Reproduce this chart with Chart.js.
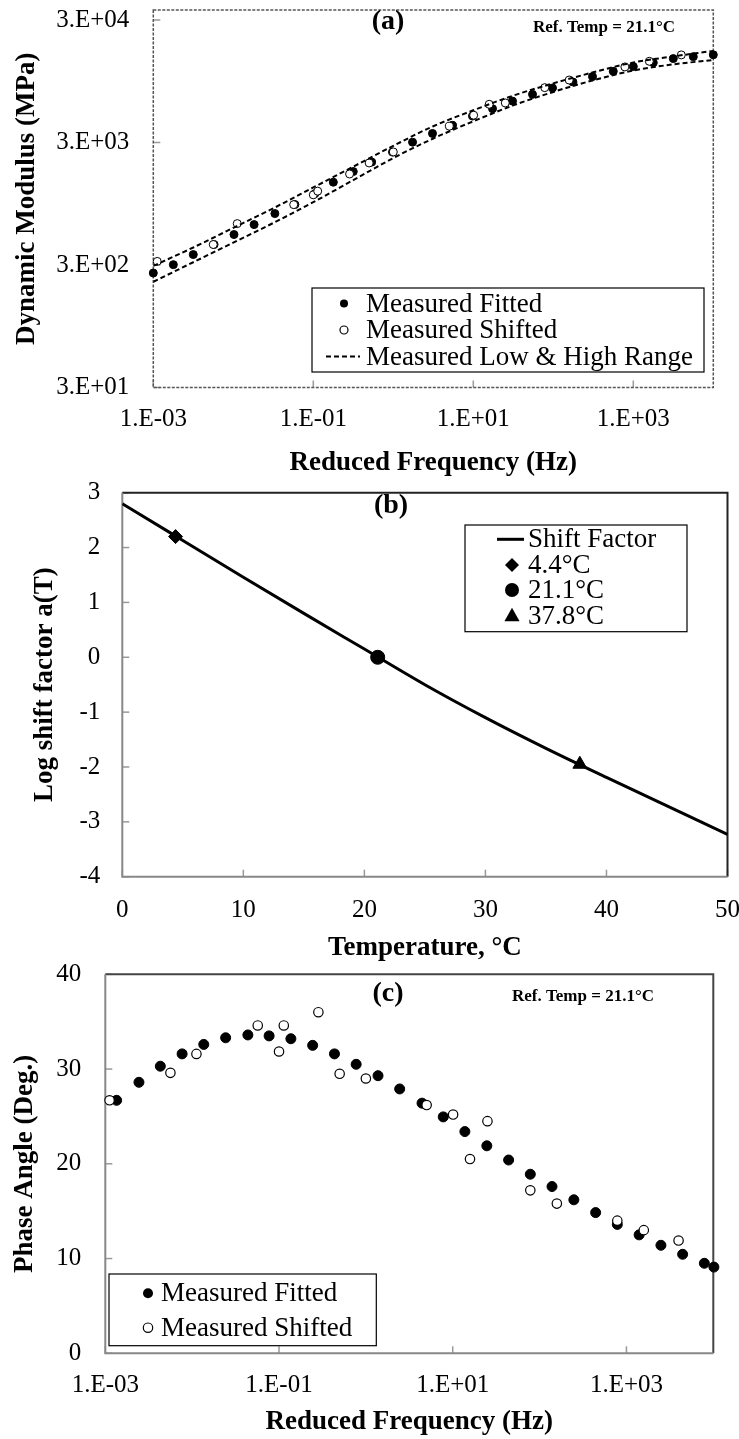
<!DOCTYPE html>
<html>
<head>
<meta charset="utf-8">
<script src="https://cdn.jsdelivr.net/npm/chart.js@4.4.0/dist/chart.umd.min.js"></script>
<style>
  html, body { margin: 0; padding: 0; background: #fff; }
  body { width: 739px; height: 1439px; position: relative; overflow: hidden; }
  canvas { position: absolute; left: 0; }
  #chartA { top: 0; }
  #chartB { top: 470px; }
  #chartC { top: 950px; }
</style>
</head>
<body>
<canvas id="chartA" width="739" height="480"></canvas>
<canvas id="chartB" width="739" height="494"></canvas>
<canvas id="chartC" width="739" height="489"></canvas>
<script>
// ---- Data: (a) dynamic modulus ----
const freqFittedA = [0.001, 0.00178, 0.00316, 0.00575, 0.0102, 0.0182, 0.0331, 0.0589, 0.105, 0.178, 0.316, 0.537, 0.977, 1.74, 3.09, 5.50, 9.77, 17.4, 30.9, 55.0, 97.7, 176, 309, 562, 1000, 1778, 3162, 5623, 10000];
const modulusFitted = [258, 302, 365, 441, 532, 641, 789, 935, 1148, 1422, 1738, 2075, 2506, 3020, 3556, 4140, 4932, 5662, 6531, 7413, 8356, 9354, 10351, 11429, 12503, 13459, 14521, 15066, 15600];
const freqShifted = [0.00112, 0.00562, 0.0112, 0.0569, 0.100, 0.1135, 0.284, 0.499, 1.0, 5.01, 10.1, 15.8, 25.1, 78.2, 158, 785, 1585, 3981];
const modulusShifted = [321, 441, 653, 933, 1122, 1202, 1660, 2042, 2512, 4074, 5012, 6152, 6310, 8414, 9705, 12416, 13804, 15560];
const freqRange = [0.001, 0.00316, 0.01, 0.0316, 0.1, 0.316, 1, 3.16, 10, 31.6, 100, 316, 1000, 3162, 10000];
const modulusHigh = [295, 417, 603, 871, 1288, 1905, 2818, 4074, 5495, 7244, 9120, 11220, 13490, 15140, 16790];
const modulusLow = [219, 316, 457, 661, 977, 1479, 2239, 3236, 4467, 6026, 7762, 9661, 11610, 13030, 14130];
const modulusTicks = [30, 300, 3000, 30000];
const modulusTickLabels = ['3.E+01', '3.E+02', '3.E+03', '3.E+04'];
const freqTicks = [0.001, 0.1, 10, 1000];
const freqTickLabels = ['1.E-03', '1.E-01', '1.E+01', '1.E+03'];

// ---- Data: (b) shift factor ----
const tempCurve = [0, 5, 10, 15, 20, 25, 30, 35, 40, 45, 50];
const shiftCurve = [2.80, 2.13, 1.46, 0.80, 0.15, -0.50, -1.10, -1.66, -2.19, -2.71, -3.23];
const tempPoints = [4.4, 21.1, 37.8];
const shiftPoints = [2.2, 0, -1.95];
const tempLabels = ['4.4°C', '21.1°C', '37.8°C'];

// ---- Data: (c) phase angle ----
const freqFittedC = [0.00135, 0.00244, 0.0043, 0.00766, 0.0136, 0.0243, 0.0438, 0.0769, 0.137, 0.244, 0.435, 0.773, 1.38, 2.45, 4.43, 7.78, 13.8, 24.7, 44.0, 78.2, 139, 248, 442, 785, 1400, 2495, 4436, 7889, 10160];
const phaseFitted = [26.7, 28.6, 30.3, 31.6, 32.6, 33.3, 33.6, 33.5, 33.2, 32.5, 31.6, 30.5, 29.3, 27.9, 26.4, 24.95, 23.4, 21.9, 20.4, 18.9, 17.6, 16.2, 14.85, 13.6, 12.5, 11.4, 10.45, 9.5, 9.1];
const phaseShifted = [26.7, 29.6, 31.6, 34.6, 31.85, 34.6, 36.0, 29.5, 29.0, 26.2, 25.2, 20.5, 24.5, 17.2, 15.8, 14.0, 13.0, 11.9];

const SERIF = "'Liberation Serif', 'Times New Roman', serif";
Chart.defaults.font.family = SERIF;
Chart.defaults.color = '#000';
Chart.defaults.animation = false;

function pts(xs, ys) { return xs.map((x, i) => ({ x: x, y: ys[i] })); }

// fix axis box sizes so the plot area lands where the reference has it
function fixWidth(w) {
  return s => { s.width = w; s.paddingLeft = s.paddingRight = s.paddingTop = s.paddingBottom = 0; };
}
function fixHeight(h) {
  return s => { s.height = h; s.paddingLeft = s.paddingRight = s.paddingTop = s.paddingBottom = 0; };
}

function drawMarker(ctx, kind, x, y, r) {
  ctx.save();
  ctx.fillStyle = '#000';
  ctx.strokeStyle = '#000';
  ctx.lineWidth = 1.2;
  ctx.beginPath();
  if (kind === 'dot') {
    ctx.arc(x, y, r, 0, Math.PI * 2); ctx.fill();
  } else if (kind === 'ring') {
    ctx.fillStyle = '#fff'; ctx.arc(x, y, r, 0, Math.PI * 2); ctx.fill(); ctx.stroke();
  } else if (kind === 'diamond') {
    ctx.moveTo(x, y - r); ctx.lineTo(x + r, y); ctx.lineTo(x, y + r); ctx.lineTo(x - r, y); ctx.closePath(); ctx.fill();
  } else if (kind === 'triangle') {
    ctx.moveTo(x, y - r); ctx.lineTo(x + r * 0.95, y + r * 0.7); ctx.lineTo(x - r * 0.95, y + r * 0.7); ctx.closePath(); ctx.fill();
  }
  ctx.restore();
}

// frame + inward tick marks
const frameDecor = {
  id: 'frameDecor',
  beforeDatasetsDraw(chart, args, o) {
    const { ctx, chartArea: a, scales } = chart;
    ctx.save();
    ctx.lineCap = 'butt';
    ctx.strokeStyle = o.tickColor;
    ctx.lineWidth = 1.5;
    scales.x.ticks.forEach(t => {
      const px = scales.x.getPixelForValue(t.value);
      ctx.beginPath(); ctx.moveTo(px, a.bottom); ctx.lineTo(px, a.bottom - 7); ctx.stroke();
    });
    scales.y.ticks.forEach(t => {
      const py = scales.y.getPixelForValue(t.value);
      ctx.beginPath(); ctx.moveTo(a.left, py); ctx.lineTo(a.left + 7, py); ctx.stroke();
    });
    if (o.dashed) {
      ctx.setLineDash([3, 1.5]);
      ctx.strokeStyle = '#555';
      ctx.lineWidth = 1.5;
      ctx.strokeRect(a.left, a.top, a.right - a.left, a.bottom - a.top);
    } else {
      ctx.lineWidth = 2;
      ctx.strokeStyle = o.outerColor;
      ctx.beginPath(); ctx.moveTo(a.left, a.top); ctx.lineTo(a.right, a.top); ctx.lineTo(a.right, a.bottom); ctx.stroke();
      ctx.strokeStyle = '#888';
      ctx.beginPath(); ctx.moveTo(a.left, a.top); ctx.lineTo(a.left, a.bottom); ctx.lineTo(a.right, a.bottom); ctx.stroke();
    }
    ctx.restore();
  }
};

// panel letter, ref temp note and boxed legend
const panelDecor = {
  id: 'panelDecor',
  afterDraw(chart, args, o) {
    const ctx = chart.ctx;
    ctx.save();
    ctx.fillStyle = '#000';
    ctx.textAlign = 'center';
    ctx.textBaseline = 'middle';
    ctx.font = 'bold 28px ' + SERIF;
    ctx.fillText(o.letter, o.letterX, o.letterY);
    if (o.note) {
      ctx.font = 'bold 17px ' + SERIF;
      ctx.fillText(o.note, o.noteX, o.noteY);
    }
    const L = o.legend;
    ctx.fillStyle = '#fff';
    ctx.fillRect(L.x0, L.y0, L.x1 - L.x0, L.y1 - L.y0);
    ctx.strokeStyle = '#000';
    ctx.lineWidth = 1.2;
    ctx.strokeRect(L.x0, L.y0, L.x1 - L.x0, L.y1 - L.y0);
    ctx.font = '27px ' + SERIF;
    ctx.textAlign = 'left';
    L.items.forEach((it, i) => {
      const y = L.rows[i];
      if (it.kind === 'dash' || it.kind === 'line') {
        ctx.save();
        ctx.strokeStyle = '#000';
        ctx.lineWidth = it.kind === 'dash' ? 2 : 3;
        if (it.kind === 'dash') ctx.setLineDash([5, 3]);
        ctx.beginPath(); ctx.moveTo(L.lineX0, y); ctx.lineTo(L.lineX1, y); ctx.stroke();
        ctx.restore();
      } else {
        drawMarker(ctx, it.kind, L.markerX, y, it.r);
      }
      ctx.fillStyle = '#000';
      ctx.fillText(chart.data.datasets[it.ds].label, L.textX, y + 1);
    });
    ctx.restore();
  }
};

function axisTitle(text, pad) {
  return { display: true, text: text, font: { size: 27, weight: 'bold' }, padding: pad };
}

// ---------- (a) ----------
new Chart(document.getElementById('chartA'), {
  type: 'scatter',
  data: {
    datasets: [
      { label: 'Measured Fitted', data: pts(freqFittedA, modulusFitted), pointRadius: 4, backgroundColor: '#000', borderColor: '#000', borderWidth: 1, clip: false, order: 4 },
      { label: 'Measured Shifted', data: pts(freqShifted, modulusShifted), pointRadius: 4, backgroundColor: '#fff', borderColor: '#000', borderWidth: 1, clip: false, order: 3 },
      { label: 'Measured Low & High Range', data: pts(freqRange, modulusHigh), showLine: true, pointRadius: 0, borderColor: '#000', borderWidth: 2, borderDash: [5, 3], cubicInterpolationMode: 'monotone', order: 2 },
      { label: 'Measured Low & High Range', data: pts(freqRange, modulusLow), showLine: true, pointRadius: 0, borderColor: '#000', borderWidth: 2, borderDash: [5, 3], cubicInterpolationMode: 'monotone', order: 1 }
    ]
  },
  options: {
    responsive: false,
    layout: { padding: { top: 10, right: 25.7, bottom: 0, left: 0 } },
    plugins: {
      legend: { display: false },
      tooltip: { enabled: false },
      frameDecor: { dashed: true, tickColor: '#999' },
      panelDecor: {
        letter: '(a)', letterX: 388, letterY: 22,
        note: 'Ref. Temp = 21.1°C', noteX: 604, noteY: 28,
        legend: {
          x0: 312, y0: 288, x1: 704, y1: 372,
          rows: [303.5, 330, 356.5], markerX: 344, lineX0: 326, lineX1: 360, textX: 366,
          items: [{ ds: 0, kind: 'dot', r: 4 }, { ds: 1, kind: 'ring', r: 4 }, { ds: 2, kind: 'dash' }]
        }
      }
    },
    scales: {
      x: {
        type: 'logarithmic', min: 0.001, max: 10000,
        grid: { display: false, drawTicks: false }, border: { display: false },
        afterBuildTicks: s => { s.ticks = freqTicks.map(v => ({ value: v })); },
        afterFit: fixHeight(92.5),
        ticks: { autoSkip: false, maxRotation: 0, padding: 16.5, font: { size: 25 }, callback: (v, i) => freqTickLabels[i] },
        title: axisTitle('Reduced Frequency (Hz)', { top: 0, bottom: 0.8 })
      },
      y: {
        type: 'logarithmic', min: 30, max: 36200,
        grid: { display: false, drawTicks: false }, border: { display: false },
        afterBuildTicks: s => { s.ticks = modulusTicks.map(v => ({ value: v })); },
        afterFit: fixWidth(153.3),
        ticks: { autoSkip: false, padding: 24, font: { size: 25 }, callback: (v, i) => modulusTickLabels[i] },
        title: axisTitle('Dynamic Modulus (MPa)', { top: 10.8, bottom: 0 })
      }
    }
  },
  plugins: [frameDecor, panelDecor]
});

// ---------- (b) ----------
new Chart(document.getElementById('chartB'), {
  type: 'scatter',
  data: {
    datasets: [
      { label: 'Shift Factor', data: pts(tempCurve, shiftCurve), showLine: true, pointRadius: 0, borderColor: '#000', borderWidth: 3, cubicInterpolationMode: 'monotone', order: 4 },
      { label: tempLabels[0], data: [{ x: tempPoints[0], y: shiftPoints[0] }], pointStyle: 'rectRot', pointRadius: 7, backgroundColor: '#000', borderColor: '#000', order: 1 },
      { label: tempLabels[1], data: [{ x: tempPoints[1], y: shiftPoints[1] }], pointStyle: 'circle', pointRadius: 7, backgroundColor: '#000', borderColor: '#000', order: 2 },
      { label: tempLabels[2], data: [{ x: tempPoints[2], y: shiftPoints[2] }], pointStyle: 'triangle', pointRadius: 8, backgroundColor: '#000', borderColor: '#000', order: 3 }
    ]
  },
  options: {
    responsive: false,
    layout: { padding: { top: 22.7, right: 11.5, bottom: 0, left: 0 } },
    plugins: {
      legend: { display: false },
      tooltip: { enabled: false },
      frameDecor: { dashed: false, tickColor: '#999', outerColor: '#222' },
      panelDecor: {
        letter: '(b)', letterX: 391, letterY: 35.5,
        legend: {
          x0: 465, y0: 55, x1: 687, y1: 161.7,
          rows: [69.3, 95, 120, 145.7], markerX: 512, lineX0: 497, lineX1: 524, textX: 528,
          items: [{ ds: 0, kind: 'line' }, { ds: 1, kind: 'diamond', r: 7 }, { ds: 2, kind: 'dot', r: 7 }, { ds: 3, kind: 'triangle', r: 8 }]
        }
      }
    },
    scales: {
      x: {
        type: 'linear', min: 0, max: 50,
        grid: { display: false, drawTicks: false }, border: { display: false },
        afterFit: fixHeight(87.3),
        ticks: { stepSize: 10, autoSkip: false, maxRotation: 0, padding: 19, font: { size: 25 } },
        title: axisTitle('Temperature, °C', { top: 0, bottom: 0 })
      },
      y: {
        type: 'linear', min: -4, max: 3,
        grid: { display: false, drawTicks: false }, border: { display: false },
        afterFit: fixWidth(122.3),
        ticks: { stepSize: 1, autoSkip: false, padding: 22, font: { size: 25 } },
        title: axisTitle('Log shift factor a(T)', { top: 28.8, bottom: 0 })
      }
    }
  },
  plugins: [frameDecor, panelDecor]
});

// ---------- (c) ----------
new Chart(document.getElementById('chartC'), {
  type: 'scatter',
  data: {
    datasets: [
      { label: 'Measured Fitted', data: pts(freqFittedC, phaseFitted), pointRadius: 5, backgroundColor: '#000', borderColor: '#000', borderWidth: 1, clip: false, order: 2 },
      { label: 'Measured Shifted', data: pts(freqShifted, phaseShifted), pointRadius: 4.7, backgroundColor: '#fff', borderColor: '#000', borderWidth: 1.2, clip: false, order: 1 }
    ]
  },
  options: {
    responsive: false,
    layout: { padding: { top: 24.3, right: 25.7, bottom: 0, left: 0 } },
    plugins: {
      legend: { display: false },
      tooltip: { enabled: false },
      frameDecor: { dashed: false, tickColor: '#999', outerColor: '#444' },
      panelDecor: {
        letter: '(c)', letterX: 388, letterY: 43.3,
        note: 'Ref. Temp = 21.1°C', noteX: 583, noteY: 46.7,
        legend: {
          x0: 109, y0: 324, x1: 376.3, y1: 395.7,
          rows: [343.3, 377.7], markerX: 148, lineX0: 0, lineX1: 0, textX: 161,
          items: [{ ds: 0, kind: 'dot', r: 5 }, { ds: 1, kind: 'ring', r: 4.7 }]
        }
      }
    },
    scales: {
      x: {
        type: 'logarithmic', min: 0.001, max: 10000,
        grid: { display: false, drawTicks: false }, border: { display: false },
        afterBuildTicks: s => { s.ticks = freqTicks.map(v => ({ value: v })); },
        afterFit: fixHeight(85.7),
        ticks: { autoSkip: false, maxRotation: 0, padding: 16.7, font: { size: 25 }, callback: (v, i) => freqTickLabels[i] },
        title: axisTitle('Reduced Frequency (Hz)', { top: 0, bottom: 1.1 })
      },
      y: {
        type: 'linear', min: 0, max: 40,
        grid: { display: false, drawTicks: false }, border: { display: false },
        afterFit: fixWidth(105.3),
        ticks: { stepSize: 10, autoSkip: false, padding: 24, font: { size: 25 } },
        title: axisTitle('Phase Angle (Deg.)', { top: 8.8, bottom: 0 })
      }
    }
  },
  plugins: [frameDecor, panelDecor]
});
</script>
</body>
</html>
